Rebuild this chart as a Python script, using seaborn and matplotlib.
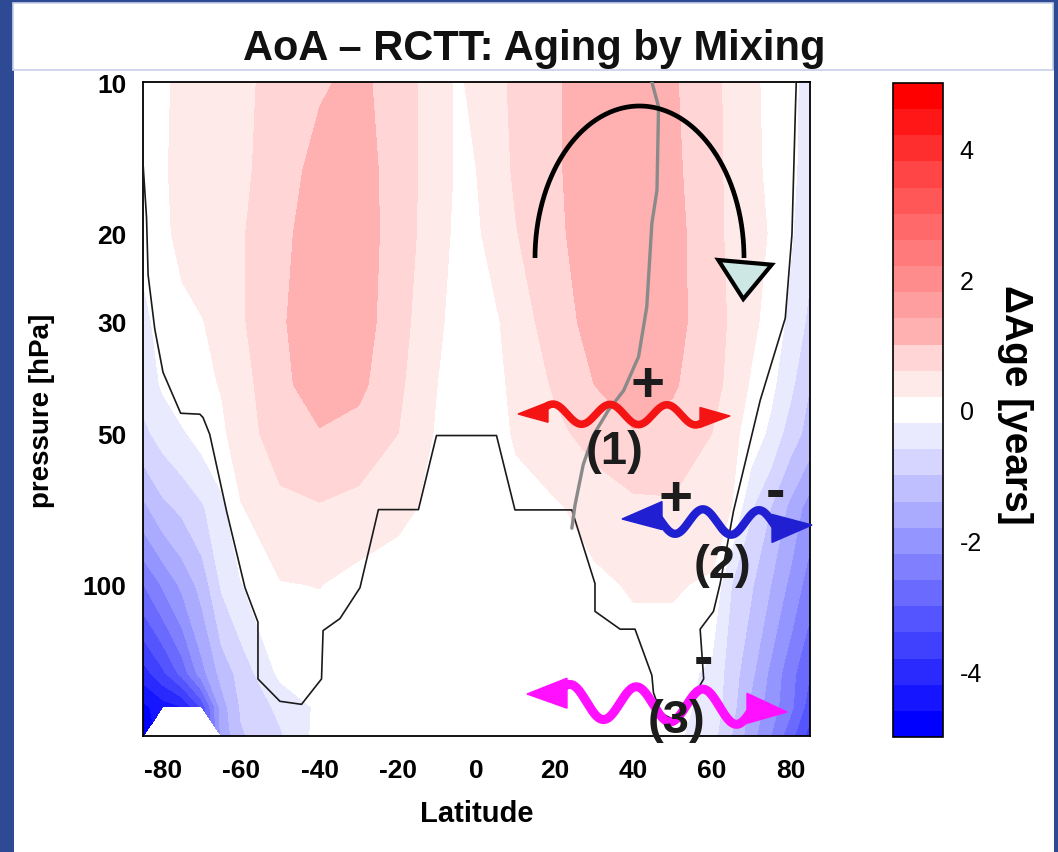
import numpy as np
import matplotlib
matplotlib.use("Agg")
import matplotlib.pyplot as plt
from matplotlib.colors import ListedColormap, BoundaryNorm
from matplotlib.patches import Rectangle, Polygon
from matplotlib.lines import Line2D
from matplotlib.ticker import NullLocator
import seaborn as sns

sns.set_style("white")
plt.rcParams["font.family"] = ["Liberation Sans", "DejaVu Sans"]

# ---------------------------------------------------------------------------
# Age-of-air difference (AoA - RCTT) in years on a latitude / pressure grid
# ---------------------------------------------------------------------------
latitudes = [-85, -80, -75, -70, -65, -60, -50, -40, -30, -20, -10, -5, 0,
             5, 10, 20, 30, 40, 50, 60, 65, 70, 75, 80, 85]
pressure_levels = [10, 15, 20, 30, 40, 50, 70, 100, 150, 175, 200]

nan = np.nan
age_010 = [0.0, 0.13, 0.3, 0.4, 0.47, 0.55, 0.68, 0.95, 1.1, 0.8, 0.4, 0.15, 0.28,
           0.5, 0.68, 0.95, 1.2, 1.3, 1.05, 0.7, 0.5, 0.28, 0.1, -0.1, -0.35]
age_015 = [0.0, 0.15, 0.32, 0.42, 0.48, 0.52, 0.8, 1.15, 1.2, 0.8, 0.4, 0.15, 0.2,
           0.45, 0.65, 0.95, 1.2, 1.3, 1.1, 0.7, 0.52, 0.3, 0.12, -0.1, -0.4]
age_020 = [-0.05, 0.12, 0.3, 0.42, 0.5, 0.56, 0.9, 1.2, 1.2, 0.82, 0.35, 0.12, 0.15,
           0.35, 0.58, 0.92, 1.2, 1.3, 1.15, 0.72, 0.52, 0.33, 0.17, -0.15, -0.5]
age_030 = [-0.35, 0.0, 0.1, 0.18, 0.35, 0.55, 0.95, 1.25, 1.2, 0.75, 0.28, 0.05, 0.05,
           0.15, 0.4, 0.8, 1.15, 1.3, 1.15, 0.75, 0.55, 0.3, 0.05, -0.3, -0.7]
age_040 = [-0.45, -0.15, 0.05, 0.12, 0.22, 0.45, 0.9, 1.2, 1.1, 0.68, 0.2, 0.05, 0.0,
           0.1, 0.3, 0.65, 1.0, 1.25, 1.05, 0.72, 0.5, 0.15, -0.1, -0.5, -1.0]
age_050 = [-0.7, -0.45, -0.25, -0.05, 0.12, 0.42, 0.8, 0.97, 0.85, 0.6, 0.15, 0.0, 0.0,
           0.05, 0.25, 0.5, 0.75, 0.97, 0.85, 0.6, 0.3, 0.05, -0.3, -0.8, -1.15]
age_070 = [-1.5, -1.1, -0.9, -0.65, -0.3, 0.18, 0.5, 0.57, 0.48, 0.3, 0.1, 0.0, 0.0,
           0.0, 0.05, 0.15, 0.35, 0.5, 0.55, 0.45, 0.2, -0.55, -1.0, -1.5, -2.0]
age_100 = [-2.62, -2.15, -1.7, -1.25, -0.55, -0.22, 0.18, 0.21, 0.05, 0.0, 0.0, 0.0, 0.0,
           0.0, 0.0, 0.03, 0.12, 0.24, 0.24, 0.14, -0.6, -0.95, -1.4, -1.9, -2.4]
age_150 = [-4.0, -3.5, -2.85, -1.95, -1.25, -0.85, -0.1, -0.05, -0.05, 0.0, 0.0, 0.0, 0.0,
           0.0, 0.0, 0.0, 0.0, 0.0, 0.0, -0.3, -0.8, -1.3, -1.9, -2.45, -3.0]
age_175 = [-4.7, -4.4, -4.2, -3.3, -1.6, -0.95, -0.5, -0.12, 0.0, 0.0, 0.0, 0.0, 0.0,
           0.0, 0.0, 0.0, 0.0, 0.0, -0.05, -0.35, -0.85, -1.5, -2.0, -2.5, -3.2]
age_200 = [-4.8, nan, nan, nan, -1.7, -1.05, -0.65, -0.05, 0.0, 0.0, 0.0, 0.0, 0.0,
           0.0, 0.0, 0.0, 0.0, 0.0, -0.1, -0.45, -1.0, -1.65, -2.2, -2.85, -3.6]

# Stair-stepped outline drawn over the field
outline_lat = [-85.0, -84.1, -83.7, -82.0, -79.9, -75.4, -70.5, -69.7, -68.0, -63.7,
               -59.0, -55.7, -55.7, -50.1, -44.6, -39.5, -39.1, -34.8, -29.7, -25.0,
               -14.8, -10.2, 5.1, 9.8, 24.3, 30.2, 30.2, 36.6, 40.4, 44.7, 45.1, 47.0,
               50.5, 53.6, 57.9, 57.0, 60.4, 62.1, 65.5, 72.3, 78.7, 80.4, 81.3, 81.5]
outline_p = [14.5, 18.6, 24.2, 31.0, 37.8, 45.6, 45.8, 46.5, 50.2, 71.4,
             101.4, 118.7, 154.0, 170.6, 173.0, 154.0, 123.4, 116.8, 101.4, 70.9,
             70.9, 50.5, 50.5, 71.0, 71.0, 99.5, 113.0, 122.6, 122.6, 151.5, 164.0, 180.0,
             186.0, 176.0, 154.0, 122.6, 113.0, 99.5, 71.4, 43.0, 29.5, 20.1, 11.2, 10.0]

# Gray barrier line in the northern hemisphere
barrier_lat = [44.7, 46.4, 46.0, 44.7, 43.4, 41.3, 37.5, 33.6, 29.8, 27.2, 25.1, 24.3]
barrier_p = [10.0, 11.2, 16.4, 19.1, 28.0, 35.2, 41.1, 45.0, 50.4, 57.7, 69.5, 77.2]

lat_ticks = [-80, -60, -40, -20, 0, 20, 40, 60, 80]
p_ticks = [10, 20, 30, 50, 100]
cbar_ticks = [-4, -2, 0, 2, 4]
contour_levels = np.linspace(-5, 5, 26)

delta_age = np.ma.masked_invalid(np.array([age_010, age_015, age_020, age_030, age_040,
                                           age_050, age_070, age_100, age_150, age_175,
                                           age_200]))

# Discrete blue-white-red palette, 12 shades on each side of the white band
blue_shades = [1 - k / 12 for k in range(12, 0, -1)]          # darkest first
red_shades = [0.917, 0.835, 0.69, 0.62, 0.55, 0.48, 0.41, 0.34,
              0.27, 0.18, 0.09, 0.0]                           # lightest first
band_colors = [(s, s, 1.0) for s in blue_shades] + [(1.0, 1.0, 1.0)] + \
              [(1.0, s, s) for s in red_shades]
cmap = ListedColormap(band_colors)
norm = BoundaryNorm(contour_levels, cmap.N)

# ---------------------------------------------------------------------------
W, H = 1058, 853
BG = "#2f4a94"
INK = "#1c1c1c"


def fx(x):
    return x / W


def fy(y):
    return 1 - y / H


fig = plt.figure(figsize=(W / 100, H / 100), dpi=100, facecolor=BG)

# slide panels
fig.add_artist(Rectangle((fx(14), 0), (1054 - 14) / W, (853 - 71) / H,
                         transform=fig.transFigure, facecolor="white",
                         edgecolor="none", zorder=0))
fig.add_artist(Rectangle((fx(13), fy(71)), (1053 - 13) / W, (71 - 4) / H,
                         transform=fig.transFigure, facecolor="white",
                         edgecolor="#c9d1e8", lw=1.2, zorder=0))
fig.text(fx(534), fy(60), "AoA \u2013 RCTT: Aging by Mixing", ha="center",
         va="baseline", fontsize=30, fontweight="bold", color="#111111")

ax = fig.add_axes([fx(143), fy(737), (810 - 143) / W, (737 - 83) / H])
cax = fig.add_axes([fx(893), fy(738), (943 - 893) / W, (738 - 84) / H])

cs = ax.contourf(latitudes, pressure_levels, delta_age, levels=contour_levels,
                 cmap=cmap, norm=norm, corner_mask=True)

sns.lineplot(x=outline_lat, y=outline_p, sort=False, estimator=None,
             color="#1a1a1a", lw=1.2, ax=ax, zorder=3)
sns.lineplot(x=barrier_lat, y=barrier_p, sort=False, estimator=None,
             color="#8a8a8a", lw=2.4, ax=ax, zorder=4)

ax.set_yscale("log")
ax.set_xlim(-85, 85)
ax.set_ylim(200, 10)
ax.set_xticks(lat_ticks)
ax.set_xticklabels([str(t) for t in lat_ticks], fontweight="bold", fontsize=19)
ax.set_yticks(p_ticks)
ax.set_yticklabels([str(t) for t in p_ticks], fontweight="bold", fontsize=19)
ax.yaxis.set_minor_locator(NullLocator())
ax.tick_params(direction="in", length=8, width=1.2, top=True, right=True,
               colors="black", pad=12)
ax.tick_params(axis="x", pad=16)
ax.set_xlabel("")
ax.set_ylabel("")
for sp in ax.spines.values():
    sp.set_color("black")
    sp.set_linewidth(1.3)

fig.text(fx(477), fy(822), "Latitude", ha="center", va="baseline",
         fontsize=21, fontweight="bold", color="black")
fig.text(fx(42), fy(411), "pressure [hPa]", ha="center", va="center",
         rotation=90, fontsize=20, fontweight="bold", color="black")

# colour bar
cb = fig.colorbar(cs, cax=cax, ticks=cbar_ticks)
cb.outline.set_linewidth(1.2)
cb.outline.set_edgecolor("black")
cax.set_yticklabels([str(t) for t in cbar_ticks], fontsize=18)
cax.tick_params(direction="in", length=7, width=1.1, left=True, right=True,
                pad=12, colors="black")
cax.yaxis.set_minor_locator(NullLocator())
fig.text(fx(1015), fy(405), "\u0394Age [years]", ha="center", va="center",
         rotation=-90, fontsize=28, fontweight="bold", color="black")

# ---------------------------------------------------------------------------
# Schematic overlay: circulation arrow and mixing waves
# ---------------------------------------------------------------------------
t = np.linspace(np.pi, 0, 200)
arc_x = 639.5 + 104.5 * np.cos(t)
arc_y = 259 - 152 * np.sin(t)
fig.add_artist(Line2D(fx(arc_x), fy(arc_y), transform=fig.transFigure,
                      color="black", lw=3.4, solid_capstyle="butt", zorder=6))
tri = [(718.3, 261), (771.7, 265.7), (743.3, 300)]
fig.add_artist(Polygon([(fx(a), fy(b)) for a, b in tri], closed=True,
                       transform=fig.transFigure, facecolor="#cde8e4",
                       edgecolor="black", lw=3, joinstyle="miter", zorder=7))


def mixing_wave(tip_l, tip_r, head_len, head_half, y_l, y_r, amp, wavelength,
                crest_x, color, lw):
    x0 = tip_l[0] + head_len * 0.8
    x1 = tip_r[0] - head_len * 0.8
    xs = np.linspace(x0, x1, 300)
    yc = y_l + (y_r - y_l) * (xs - x0) / (x1 - x0)
    ys = yc - amp * np.cos(2 * np.pi * (xs - crest_x) / wavelength)
    fig.add_artist(Line2D(fx(xs), fy(ys), transform=fig.transFigure,
                          color=color, lw=lw, solid_capstyle="round", zorder=6))
    for (tx, ty), sgn, yb in ((tip_l, 1, ys[0]), (tip_r, -1, ys[-1])):
        bx = tx + sgn * head_len
        by = 0.5 * (ty + yb)
        pts = [(tx, ty), (bx, by - head_half), (bx, by + head_half)]
        fig.add_artist(Polygon([(fx(a), fy(b)) for a, b in pts], closed=True,
                               transform=fig.transFigure, facecolor=color,
                               edgecolor=color, lw=1, zorder=6))


mixing_wave((518, 415), (730, 417), 30, 10, 415, 416, 10, 57, 553, "#f41414", 5.5)
mixing_wave((622, 520), (812, 526), 40, 14, 522, 524, 12.5, 56, 703, "#2020d2", 6.0)
mixing_wave((527, 695), (787, 713), 40, 15, 702, 709, 17, 66.5, 570, "#ff10ff", 6.5)

big = dict(ha="center", va="baseline", fontweight="bold", color=INK, zorder=8)
fig.text(fx(648), fy(402), "+", fontsize=42, **big)
fig.text(fx(676), fy(516), "+", fontsize=42, **big)
fig.text(fx(775), fy(509), "-", fontsize=42, **big)
fig.text(fx(703), fy(676), "-", fontsize=42, **big)
fig.text(fx(615), fy(464), "(1)", fontsize=34, **big)
fig.text(fx(722), fy(578), "(2)", fontsize=34, **big)
fig.text(fx(677), fy(733), "(3)", fontsize=34, **big)

fig.savefig("out.png", dpi=100, facecolor=BG)
